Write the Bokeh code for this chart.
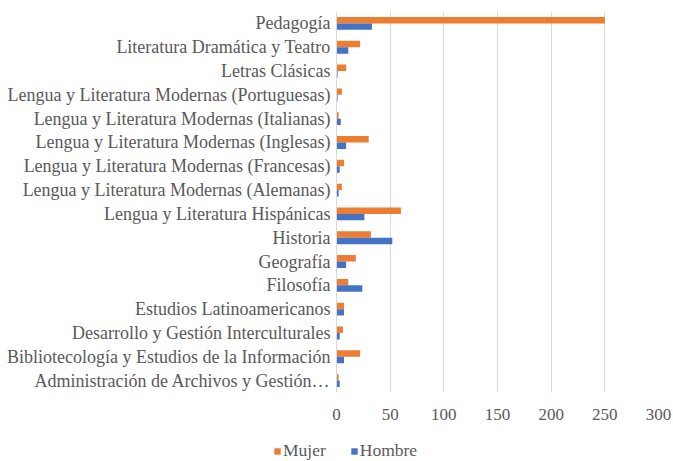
from bokeh.plotting import figure
from bokeh.layouts import column
from bokeh.models import FactorRange, Range1d, Legend, LegendItem, FixedTicker, ColumnDataSource
from bokeh.transform import dodge
from bokeh.embed import file_html
from bokeh.resources import INLINE

categories = [
    "Administración de Archivos y Gestión…",
    "Bibliotecología y Estudios de la Información",
    "Desarrollo y Gestión Interculturales",
    "Estudios Latinoamericanos",
    "Filosofía",
    "Geografía",
    "Historia",
    "Lengua y Literatura Hispánicas",
    "Lengua y Literatura Modernas (Alemanas)",
    "Lengua y Literatura Modernas (Francesas)",
    "Lengua y Literatura Modernas (Inglesas)",
    "Lengua y Literatura Modernas (Italianas)",
    "Lengua y Literatura Modernas (Portuguesas)",
    "Letras Clásicas",
    "Literatura Dramática y Teatro",
    "Pedagogía",
]
mujer = [2, 22, 6, 7, 11, 18, 32, 60, 5, 7, 30, 2, 5, 9, 22, 250]
hombre = [3, 7, 3, 7, 24, 9, 52, 26, 2, 3, 9, 4, 1, 1, 11, 33]
series_names = ["Mujer", "Hombre"]
x_ticks = [0, 50, 100, 150, 200, 250, 300]

FONT = "'Liberation Serif', 'Times New Roman', serif"
TXT = "#595959"
COLORS = ["#ED7D31", "#4472C4"]

src = ColumnDataSource(dict(cat=categories, mujer=mujer, hombre=hombre))

p = figure(width=673, height=430, output_backend="svg", toolbar_location=None,
           x_range=Range1d(0, 300), y_range=FactorRange(*categories),
           min_border_left=336, min_border_right=15, min_border_top=11,
           min_border_bottom=38)
p.outline_line_color = None

p.hbar(y=dodge("cat", 0.135, range=p.y_range), right="mujer", height=0.27,
       source=src, fill_color=COLORS[0], line_color=None)
p.hbar(y=dodge("cat", -0.135, range=p.y_range), right="hombre", height=0.27,
       source=src, fill_color=COLORS[1], line_color=None)

p.ygrid.grid_line_color = None
p.xgrid.grid_line_color = "#d9d9d9"
p.xgrid.grid_line_width = 1

p.xaxis.ticker = FixedTicker(ticks=x_ticks)
p.xaxis.axis_line_color = None
p.xaxis.major_tick_line_color = None
p.xaxis.minor_tick_line_color = None
p.xaxis.major_tick_out = 0
p.xaxis.major_tick_in = 0
p.xaxis.minor_tick_out = 0
p.xaxis.major_label_standoff = 16
p.xaxis.major_label_text_font = FONT
p.xaxis.major_label_text_font_size = "17px"
p.xaxis.major_label_text_color = TXT

p.yaxis.axis_line_color = "#d9d9d9"
p.yaxis.major_tick_line_color = None
p.yaxis.minor_tick_line_color = None
p.yaxis.major_tick_out = 0
p.yaxis.major_tick_in = 0
p.yaxis.minor_tick_out = 0
p.yaxis.major_label_standoff = 6
p.yaxis.major_label_text_font = FONT
p.yaxis.major_label_text_font_size = "18px"
p.yaxis.major_label_text_color = TXT

# legend strip below the chart (its frame is aligned with the chart frame)
lg = figure(width=673, height=31, output_backend="svg", toolbar_location=None,
            x_range=Range1d(0, 1), y_range=Range1d(0, 1),
            x_axis_type=None, y_axis_type=None,
            min_border_left=0, min_border_right=0, min_border_top=0,
            min_border_bottom=0)
lg.outline_line_color = None
lg.styles = {"transform": "translateX(-63px)"}
lr1 = lg.hbar(y=[-10], left=[0], right=[1], height=0.27,
              fill_color=COLORS[0], line_color=None)
lr2 = lg.hbar(y=[-10], left=[0], right=[1], height=0.27,
              fill_color=COLORS[1], line_color=None)

legend = Legend(items=[LegendItem(label=series_names[0], renderers=[lr1]),
                       LegendItem(label=series_names[1], renderers=[lr2])],
                location=(0, 0), orientation="horizontal",
                glyph_width=8, glyph_height=8, label_height=16,
                label_standoff=2, spacing=24, padding=0, margin=0,
                border_line_color=None, background_fill_alpha=0,
                label_text_font=FONT, label_text_font_size="17.5px",
                label_text_color=TXT)
lg.add_layout(legend)

layout = column(p, lg, spacing=0)
open("out.html", "w").write(file_html(layout, INLINE))
